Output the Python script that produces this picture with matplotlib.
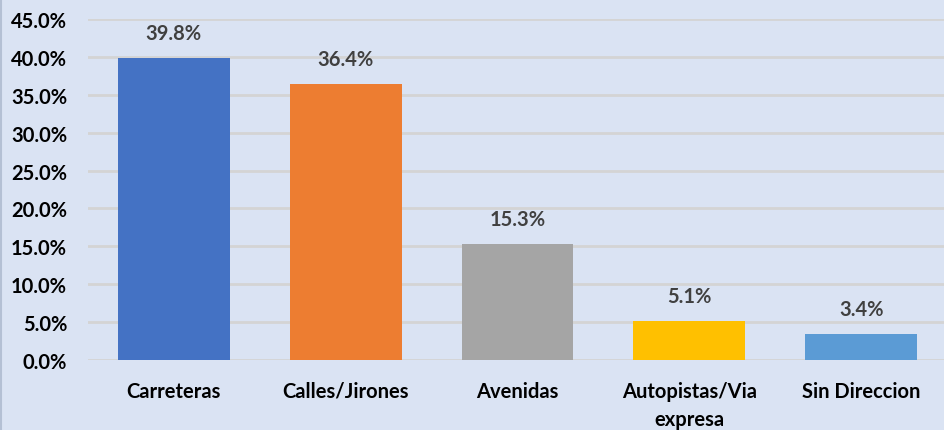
import matplotlib
matplotlib.use("Agg")
import matplotlib.pyplot as plt

categories = ["Carreteras", "Calles/Jirones", "Avenidas", "Autopistas/Via\nexpresa", "Sin Direccion"]
values = [39.8, 36.4, 15.3, 5.1, 3.4]
colors = ["#4472C4", "#ED7D31", "#A5A5A5", "#FFC000", "#5B9BD5"]
yticks = [0, 5, 10, 15, 20, 25, 30, 35, 40, 45]

plt.rcParams['font.family'] = ['Lato', 'DejaVu Sans']
bg = "#DAE3F3"
fig = plt.figure(figsize=(9.45, 4.31), dpi=100, facecolor=bg)
ax = fig.add_axes([88/945, 70/431, 859/945, 341/431])
ax.set_facecolor(bg)
x = list(range(len(categories)))
bars = ax.bar(x, values, width=0.65, color=colors, zorder=3)
fs = 14.5
for xi, v in zip(x, values):
    ax.annotate(f"{v:.1f}%", (xi, v), xytext=(0, 11), textcoords="offset points",
                ha="center", va="bottom", fontsize=fs, fontweight="bold", color="#404040")
ax.set_xlim(-0.5, 4.5)
ax.set_ylim(0, 45)
ax.set_yticks(yticks)
ax.set_yticklabels([f"{t:.1f}%" for t in yticks], fontsize=fs, fontweight="bold", color="black")
ax.set_xticks(x)
ax.set_xticklabels(categories, fontsize=fs, fontweight="bold", color="black", linespacing=1.5)
ax.grid(axis="y", color="#D4D4D4", linewidth=2, zorder=0)
ax.tick_params(axis="both", length=0)
ax.tick_params(axis="x", pad=15)
ax.tick_params(axis="y", pad=15)
for s in ax.spines.values():
    s.set_visible(False)
fig.add_artist(plt.Line2D([1/945, 1/945], [0, 1], color="#B4C0D4", linewidth=1.5))
fig.savefig("out.png", dpi=100, facecolor=bg)
